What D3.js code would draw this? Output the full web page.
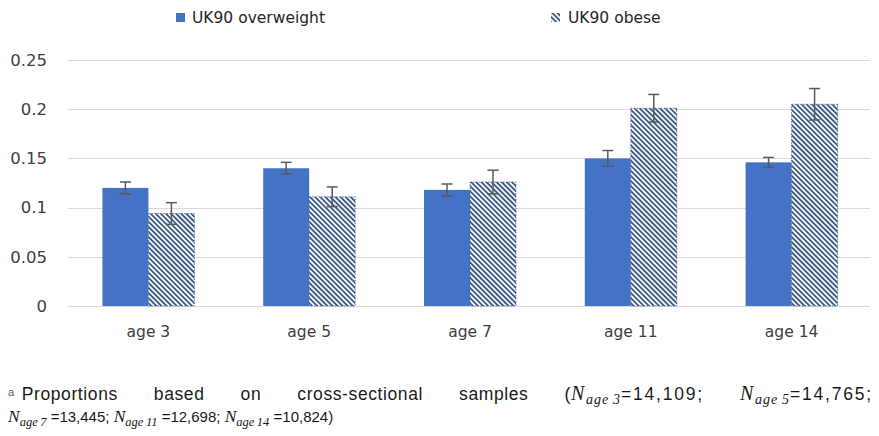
<!DOCTYPE html>
<html>
<head>
<meta charset="utf-8">
<script src="https://cdn.jsdelivr.net/npm/d3@7"></script>
<style>
  html, body { margin: 0; padding: 0; background: #fff; }
  #wrap { position: relative; width: 879px; height: 436px; overflow: hidden; }
  svg { position: absolute; left: 0; top: 0; }
  .note { position: absolute; left: 8px; width: 865px; font-family: "Liberation Sans", Arial, sans-serif; color: #1a1a1a; line-height: 20px; white-space: normal; }
  .note.l1 { top: 383px; font-size: 17.5px; letter-spacing: 0.6px; text-align: justify; text-align-last: justify; }
  .note.l2 { top: 406px; font-size: 15px; }
  .w { display: inline-block; }
  .N { font-family: "Liberation Serif", "DejaVu Serif", serif; font-style: italic; }
  .l1 .N { font-size: 20px; margin-right: 1px; }
  .l2 .N { font-size: 17.5px; }
  .sub { font-family: "Liberation Serif", "DejaVu Serif", serif; font-style: italic; position: relative; top: 4px; }
  .l1 .sub { font-size: 14px; letter-spacing: 1px; }
  .l2 .sub { font-size: 12.5px; }
  .l1 .num { letter-spacing: 1.8px; }
  .mk { font-size: 11px; color: #4a5a80; position: relative; top: -4px; margin-right: 7px; }
</style>
</head>
<body>
<div id="wrap"></div>
<script>
// Prevalence by age (proportions) with error bar half-widths
const categories = ["age 3", "age 5", "age 7", "age 11", "age 14"];
const seriesNames = ["UK90 overweight", "UK90 obese"];
const overweight = [0.120, 0.140, 0.118, 0.150, 0.146];
const obese = [0.094, 0.111, 0.126, 0.201, 0.205];
const overweightErr = [0.006, 0.006, 0.006, 0.008, 0.005];
const obeseErr = [0.011, 0.010, 0.012, 0.014, 0.016];
const yTicks = [0, 0.05, 0.1, 0.15, 0.2, 0.25];
const yTickLabels = ["0", "0.05", "0.1", "0.15", "0.2", "0.25"];
const noteWords = ["Proportions", "based", "on", "cross-sectional", "samples"];
const sampleAges = ["3", "5", "7", "11", "14"];
const sampleSizes = ["14,109", "14,765", "13,445", "12,698", "10,824"];

const W = 879, H = 436;
const blue = "#4472C4", hatch = "#3f5c88", grid = "#d9d9d9", errC = "#5a5a5a", txt = "#404040";
const chartFont = "DejaVu Sans, Verdana, sans-serif";

const wrap = d3.select("#wrap");
const svg = wrap.append("svg").attr("width", W).attr("height", H);

// diagonal stripe fill for the obese series
const defs = svg.append("defs");
const pat = defs.append("pattern")
  .attr("id", "stripes").attr("patternUnits", "userSpaceOnUse")
  .attr("width", 3.6).attr("height", 3.6)
  .attr("patternTransform", "rotate(-45)");
pat.append("rect").attr("width", 3.6).attr("height", 3.6).attr("fill", "#fff");
pat.append("rect").attr("width", 1.9).attr("height", 3.6).attr("fill", hatch);

const x0 = d3.scaleBand().domain(categories).range([68, 872]);
const x1 = d3.scaleBand().domain(seriesNames).range([0, x0.bandwidth()]).paddingOuter(0.748);
const y = d3.scaleLinear().domain([0, 0.25]).range([306, 60]);

// gridlines
svg.append("g").selectAll("line").data(yTicks).join("line")
  .attr("x1", 68).attr("x2", 870)
  .attr("y1", d => Math.round(y(d)) + 0.5).attr("y2", d => Math.round(y(d)) + 0.5)
  .attr("stroke", grid).attr("stroke-width", 1.2);

// y axis labels
const yAxis = d3.axisLeft(y).tickValues(yTicks).tickFormat((d, i) => yTickLabels[i]).tickSize(0).tickPadding(0);
const gy = svg.append("g").attr("transform", "translate(47,0)").call(yAxis);
gy.select(".domain").remove();
gy.selectAll("text").attr("font-family", chartFont).attr("font-size", 16.5).attr("fill", txt);

// x axis labels
const xAxis = d3.axisBottom(x0).tickSize(0).tickPadding(0);
const gx = svg.append("g").attr("transform", "translate(0,326)").call(xAxis);
gx.select(".domain").remove();
gx.selectAll("text").attr("font-family", chartFont).attr("font-size", 15.5).attr("fill", txt);

const rows = categories.map((c, i) => ({
  cat: c,
  vals: [
    { s: seriesNames[0], v: overweight[i], e: overweightErr[i] },
    { s: seriesNames[1], v: obese[i], e: obeseErr[i] }
  ]
}));

const groups = svg.append("g").selectAll("g").data(rows).join("g")
  .attr("transform", d => `translate(${x0(d.cat)},0)`);

groups.selectAll("rect").data(d => d.vals).join("rect")
  .attr("x", d => x1(d.s))
  .attr("width", x1.bandwidth())
  .attr("y", d => y(d.v))
  .attr("height", d => y(0) - y(d.v))
  .attr("fill", d => d.s === seriesNames[0] ? blue : "url(#stripes)")
  .attr("stroke", d => d.s === seriesNames[0] ? "none" : hatch)
  .attr("stroke-width", 0.8)
  .attr("stroke-dasharray", "1.5,1.5");

// error bars
const eb = groups.selectAll("g.eb").data(d => d.vals).join("g").attr("class", "eb")
  .attr("transform", d => `translate(${x1(d.s) + x1.bandwidth() / 2},0)`);
eb.append("line").attr("y1", d => y(d.v + d.e)).attr("y2", d => y(d.v - d.e))
  .attr("stroke", errC).attr("stroke-width", 1.5);
eb.append("line").attr("x1", -5.5).attr("x2", 5.5)
  .attr("y1", d => y(d.v + d.e)).attr("y2", d => y(d.v + d.e))
  .attr("stroke", errC).attr("stroke-width", 1.5);
eb.append("line").attr("x1", -5.5).attr("x2", 5.5)
  .attr("y1", d => y(d.v - d.e)).attr("y2", d => y(d.v - d.e))
  .attr("stroke", errC).attr("stroke-width", 1.5);

// legend
const legendX = [176, 551];
const lg = svg.append("g").selectAll("g").data(seriesNames).join("g")
  .attr("transform", (d, i) => `translate(${legendX[i]},13)`);
lg.append("rect").attr("width", 9).attr("height", 9)
  .attr("fill", (d, i) => i === 0 ? blue : "url(#stripes)");
lg.append("text").attr("x", (d, i) => i === 0 ? 16 : 17).attr("y", 4.5).attr("dy", "0.35em")
  .attr("font-family", chartFont).attr("font-size", 15.5).attr("fill", "#262626")
  .text(d => d);

// footnote with sample sizes
function nGroup(parent, i, lead, eq, tail) {
  const g = parent.append("span").attr("class", "w");
  if (lead) g.append("span").text(lead);
  g.append("span").attr("class", "N").text("N");
  g.append("span").attr("class", "sub").text("age\u2009" + sampleAges[i]);
  g.append("span").attr("class", "num").text(eq + sampleSizes[i] + tail);
  return g;
}
const l1 = wrap.append("div").attr("class", "note l1");
const firstWord = l1.append("span").attr("class", "w");
firstWord.append("span").attr("class", "mk").text("a");
firstWord.append("span").text(noteWords[0]);
noteWords.slice(1).forEach(w => { l1.append("span").text(" "); l1.append("span").attr("class", "w").text(w); });
l1.append("span").text(" ");
nGroup(l1, 0, "(", "=", ";");
l1.append("span").text(" ");
nGroup(l1, 1, "", "=", ";");

const l2 = wrap.append("div").attr("class", "note l2");
[2, 3, 4].forEach((idx, k) => {
  nGroup(l2, idx, "", " =", k === 2 ? ")" : ";");
  if (k < 2) l2.append("span").text(" ");
});
</script>
</body>
</html>
